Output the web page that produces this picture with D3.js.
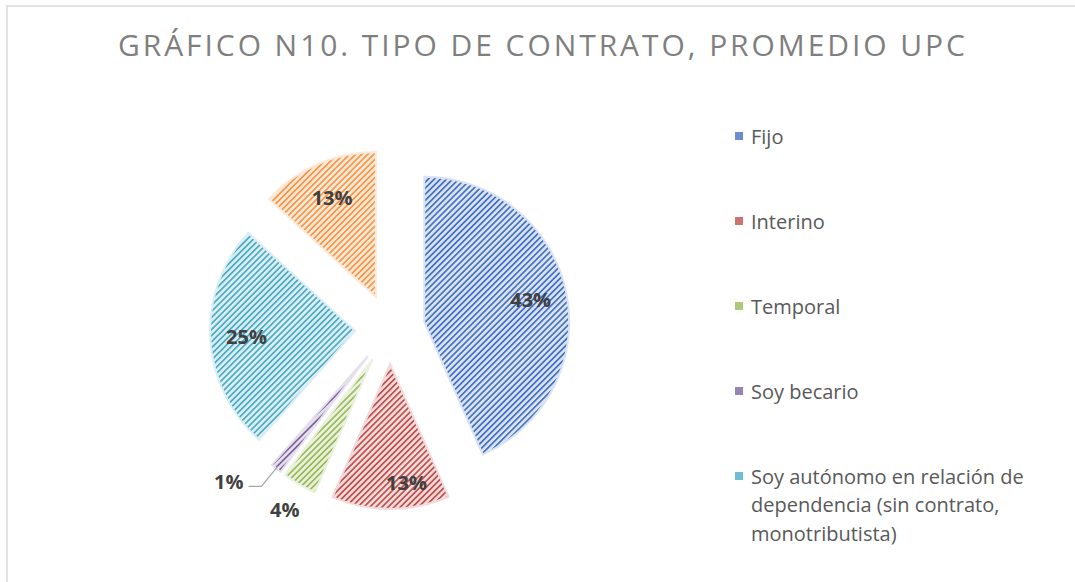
<!DOCTYPE html>
<html>
<head>
<meta charset="utf-8">
<script src="https://cdn.jsdelivr.net/npm/d3@7"></script>
<style>
  body { margin: 0; background: #fff; }
  svg { display: block; }
</style>
</head>
<body>
<script>
// data
const categories = ['Fijo', 'Interino', 'Temporal', 'Soy becario',
  'Soy autónomo en relación de dependencia (sin contrato, monotributista)', 'Otro'];
const values = [43.4, 13.1, 3.8, 1.2, 25.3, 13.2];
const labels = ['43%', '13%', '4%', '1%', '25%', '13%'];
const legendLines = [['Fijo'], ['Interino'], ['Temporal'], ['Soy becario'],
  ['Soy autónomo en relación de', 'dependencia (sin contrato,', 'monotributista)']];

const colors = ['#4472C4', '#C0504D', '#9BBB59', '#8064A2', '#4BACC6', '#F79646'];
const lights = ['#dae3f3', '#f2dcdb', '#ebf1de', '#e5e0ec', '#dbeef4', '#fde9d9'];

const width = 1075;
const height = 582;
const center = { x: 390, y: 329 };
const radius = 145;
const explode = 35;

const svg = d3.select('body').append('svg').attr('width', width).attr('height', height);

// chart border
svg.append('rect')
  .attr('x', 7).attr('y', 6)
  .attr('width', width).attr('height', height)
  .attr('fill', 'none').attr('stroke', '#d9d9d9').attr('stroke-width', 1.5);

// title
svg.append('text')
  .attr('x', 118).attr('y', 56)
  .attr('textLength', 847).attr('lengthAdjust', 'spacing')
  .attr('font-family', 'Open Sans').attr('font-size', '30px')
  .attr('fill', '#7f7f7f')
  .text('GRÁFICO N10. TIPO DE CONTRATO, PROMEDIO UPC');

// hatch patterns (upward diagonal stripes)
const defs = svg.append('defs');
colors.forEach((c, i) => {
  const p = defs.append('pattern')
    .attr('id', 'hatch' + i)
    .attr('patternUnits', 'userSpaceOnUse')
    .attr('width', 4.3).attr('height', 10)
    .attr('patternTransform', 'rotate(45)');
  p.append('rect').attr('width', 4.3).attr('height', 10).attr('fill', lights[i]);
  p.append('rect').attr('x', 0).attr('width', 1.7).attr('height', 10).attr('fill', c);
});

const pie = d3.pie().sort(null).value((d) => d);
const arcs = pie(values);
const arc = d3.arc().innerRadius(0).outerRadius(radius);

const dir = (a) => [Math.sin(a), -Math.cos(a)];

const g = svg.append('g').attr('transform', `translate(${center.x},${center.y})`);

const slice = g.selectAll('g.slice')
  .data(arcs)
  .enter()
  .append('g')
  .attr('class', 'slice')
  .attr('transform', (d) => {
    const [dx, dy] = dir((d.startAngle + d.endAngle) / 2);
    return `translate(${dx * explode},${dy * explode})`;
  });

slice.append('path')
  .attr('d', arc)
  .attr('fill', (d, i) => `url(#hatch${i})`)
  .attr('stroke', (d, i) => lights[i])
  .attr('stroke-width', 2);

// data labels
slice.each(function (d, i) {
  const sel = d3.select(this);
  const [ux, uy] = dir((d.startAngle + d.endAngle) / 2);
  const pct = d.value;
  const txt = sel.append('text')
    .attr('font-family', 'Open Sans').attr('font-weight', 'bold')
    .attr('font-size', '20px').attr('fill', '#404040')
    .attr('dominant-baseline', 'central')
    .text(labels[i]);
  if (pct < 2) {
    const p0 = [ux * radius * 0.98, uy * radius * 0.98];
    const p1 = [ux * radius * 1.16, uy * radius * 1.16];
    const p2 = [p1[0] - 13, p1[1]];
    sel.append('polyline')
      .attr('points', [p0, p1, p2].map((p) => p.join(',')).join(' '))
      .attr('fill', 'none').attr('stroke', '#a6a6a6').attr('stroke-width', 1.2);
    txt.attr('x', p2[0] - 5).attr('y', p2[1] - 5).attr('text-anchor', 'end');
  } else if (pct < 5) {
    txt.attr('x', ux * radius * 1.2).attr('y', uy * radius * 1.2).attr('text-anchor', 'middle');
  } else {
    // bottom slice label sits a bit further out and to the right, as in the original
    const k = Math.abs(uy) > 0.99 ? 0.82 : 0.75;
    const shift = Math.abs(uy) > 0.99 ? 16 : 0;
    txt.attr('x', ux * radius * k + shift).attr('y', uy * radius * k).attr('text-anchor', 'middle');
  }
});

// legend
const legend = svg.append('g');
let ly = 136;
legendLines.forEach((lines, i) => {
  legend.append('rect')
    .attr('x', 735).attr('y', ly - 4)
    .attr('width', 8).attr('height', 8)
    .attr('fill', colors[i]).attr('fill-opacity', 0.8);
  lines.forEach((line, j) => {
    legend.append('text')
      .attr('x', 751).attr('y', ly + j * 28.5)
      .attr('dominant-baseline', 'central')
      .attr('font-family', 'Open Sans').attr('font-size', '20px')
      .attr('fill', '#595959')
      .text(line);
  });
  ly += lines.length * 28.5 + 56.5;
});
</script>
</body>
</html>
